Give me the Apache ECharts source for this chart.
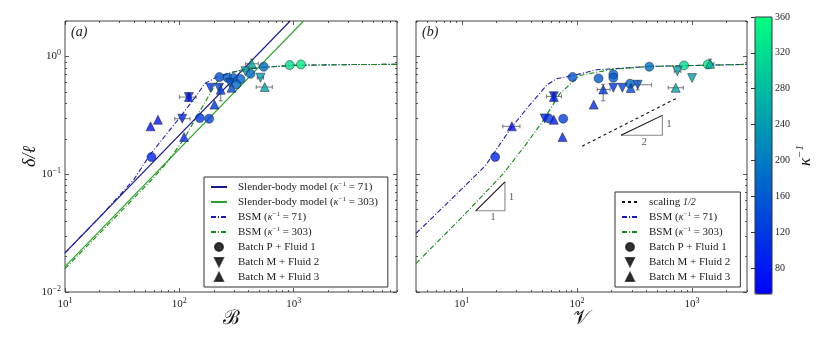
<!DOCTYPE html>
<html lang="en">
<head>
<meta charset="UTF-8">
<title>Deflection vs bending number</title>
<script src="https://cdn.jsdelivr.net/npm/echarts@6/dist/echarts.min.js"></script>
<style>
  html, body { margin: 0; padding: 0; background: #fff; }
  #main { width: 830px; height: 346px; }
</style>
</head>
<body>
<div id="main"></div>
<script>
// ---- data ----
// panel (a): x = B, panel (b): x = V ; y = delta / l
var slender71A = [[10, 0.0215], [930, 2.0]];
var slender303A = [[10, 0.0164], [1220, 2.0]];
var bsm71A = [[10, 0.0215], [20, 0.043], [40, 0.09], [55, 0.145], [100, 0.3], [140, 0.46], [167, 0.59], [217, 0.677],
              [300, 0.74], [400, 0.78], [540, 0.81], [1000, 0.84], [3000, 0.853], [8000, 0.857]];
var bsm303A = [[10, 0.0158], [30, 0.047], [60, 0.094], [80, 0.13], [110, 0.2], [141, 0.306], [180, 0.46], [211, 0.6],
               [240, 0.68], [315, 0.75], [450, 0.8], [1000, 0.84], [3000, 0.853], [8000, 0.857]];

var bsm71B = [[4, 0.0314], [10, 0.075], [16, 0.118], [27, 0.25], [40, 0.4], [54.5, 0.568], [66, 0.645], [93, 0.69],
              [148, 0.77], [431, 0.823], [3000, 0.857]];
var bsm303B = [[4, 0.0175], [10, 0.043], [22.9, 0.101], [36.5, 0.182], [51, 0.287], [71, 0.483], [106, 0.69],
               [206, 0.78], [431, 0.823], [3000, 0.857]];
var scalingB = [[111, 0.173], [751, 0.447]];

// scatter points: [x, y, kappa^-1]
var circlesA = [[57, 0.14, 95], [151, 0.30, 120], [182, 0.296, 130], [224, 0.668, 150], [263, 0.66, 170],
                [297, 0.655, 165], [342, 0.643, 170], [316, 0.579, 175], [419, 0.713, 175], [547, 0.818, 185],
                [923, 0.845, 320], [1158, 0.855, 340]];
var downA = [[106, 0.296, 95], [121, 0.452, 85], [187, 0.542, 110], [222, 0.542, 130], [276, 0.594, 150],
             [378, 0.75, 250], [512, 0.66, 240]];
var upA = [[56, 0.255, 70], [65, 0.29, 80], [121, 0.452, 85], [110, 0.207, 95], [203, 0.39, 110], [230, 0.522, 125],
           [286, 0.542, 140], [430, 0.867, 270], [558, 0.55, 250]];

var circlesB = [[19.5, 0.14, 95], [56.7, 0.298, 120], [76, 0.296, 130], [91.6, 0.668, 150], [154, 0.651, 160],
                [207, 0.704, 170], [207, 0.66, 165], [289, 0.587, 175], [425, 0.818, 185], [851, 0.839, 320],
                [1370, 0.855, 340]];
var downB = [[52.4, 0.298, 95], [63, 0.46, 85], [207, 0.542, 110], [248, 0.542, 130], [337, 0.575, 150],
             [745, 0.75, 250], [1000, 0.655, 240]];
var upB = [[27.2, 0.255, 70], [63, 0.29, 80], [63, 0.452, 85], [75, 0.207, 95], [140, 0.39, 110], [169, 0.525, 125],
           [293, 0.54, 140], [1435, 0.867, 270], [721, 0.542, 250]];

// error bars: [x, y, xlo, xhi, ylo, yhi]
var errA = [[106, 0.296, 91, 124, 0.296, 0.296], [121, 0.452, 100, 140, 0.42, 0.49], [230, 0.522, 230, 230, 0.42, 0.58],
            [430, 0.867, 380, 490, 0.80, 0.95], [558, 0.55, 470, 650, 0.55, 0.55], [512, 0.66, 480, 545, 0.66, 0.66],
            [378, 0.75, 345, 410, 0.75, 0.75]];
var errB = [[27.2, 0.255, 22.7, 32, 0.255, 0.255], [63, 0.458, 54.5, 73.5, 0.42, 0.49], [169, 0.525, 150, 194, 0.42, 0.58],
            [337, 0.575, 300, 445, 0.52, 0.62], [721, 0.542, 620, 840, 0.542, 0.542], [1435, 0.867, 1330, 1550, 0.80, 0.95],
            [745, 0.75, 700, 800, 0.75, 0.75]];

// slope triangles (panel b)
var tri11Legs = [[13.2, 0.0489], [23.7, 0.0489], [23.7, 0.0861]];
var tri11Hyp = [[13.2, 0.0489], [23.7, 0.0861]];
var tri12Legs = [[241.5, 0.214], [552, 0.214], [552, 0.316]];
var tri12Hyp = [[241.5, 0.214], [552, 0.316]];
var slopeLabels = [[18.7, 0.0435, '1'], [27, 0.0642, '1'], [385, 0.188, '2'], [631, 0.264, '1']];

// axes
var xRangeA = [10, 8000];
var xRangeB = [4, 3000];
var yRange = [0.01, 2];
var kappaRange = [51, 360];
var kappaTicks = [80, 120, 160, 200, 240, 280, 320, 360];
var decades = [0.01, 0.1, 1, 10, 100, 1000];

// ---- chart ----
var SERIF = '"Liberation Serif", "DejaVu Serif", serif';
var NAVY = '#16168c', BLUE = '#1a1ab4', GREEN = '#28a428', DGREEN = '#108a10';

function majorsIn(r) { return decades.filter(function (v) { return v >= r[0] * 0.999 && v <= r[1] * 1.001; }); }
function minorsIn(r) {
  var out = [];
  decades.forEach(function (d) {
    for (var k = 2; k <= 9; k++) { var v = d * k; if (v >= r[0] && v <= r[1]) out.push(v); }
  });
  return out;
}
function expLabel(v) {
  var e = Math.round(Math.log10(v));
  return '{b|10}{s|' + (e < 0 ? '\u2212' + (-e) : e) + '}';
}
var labelRich = {
  b: { fontFamily: SERIF, fontSize: 11, color: '#222' },
  s: { fontFamily: SERIF, fontSize: 8, color: '#222', padding: [0, 0, 7, 0] }
};

function logAxes(grid, range, dir, labels, name) {
  var isX = dir === 'x';
  var sides = isX ? ['bottom', 'top'] : ['left', 'right'];
  var res = [];
  sides.forEach(function (pos, si) {
    [majorsIn(range), minorsIn(range)].forEach(function (vals, mi) {
      var ax = {
        type: 'log', gridIndex: grid, position: pos, min: range[0], max: range[1], logBase: 10,
        axisLine: { show: false }, splitLine: { show: false },
        axisTick: { show: true, inside: true, length: mi === 0 ? 4 : 2, customValues: vals,
                    lineStyle: { color: '#333', width: 0.8 } },
        axisLabel: { show: false }
      };
      if (si === 0 && mi === 0 && labels) {
        ax.axisLabel = { show: true, customValues: vals, formatter: expLabel, rich: labelRich, margin: isX ? 5 : 4 };
      }
      if (si === 0 && mi === 0 && name) {
        ax.name = name.text;
        ax.nameLocation = 'middle';
        ax.nameGap = name.gap;
        ax.nameMoveOverlap = false;
        ax.nameRotate = isX ? 0 : 90;
        ax.nameTextStyle = { fontFamily: SERIF, fontStyle: name.style, fontSize: name.size, color: '#111' };
      }
      res.push(ax);
    });
  });
  return res;
}

var xAxes = [].concat(
  logAxes(0, xRangeA, 'x', true, { text: '\u212C', gap: 17, size: 20, style: 'normal' }),
  logAxes(1, xRangeB, 'x', true, { text: '\uD835\uDCB1', gap: 17, size: 20, style: 'normal' }),
  [{ type: 'value', gridIndex: 2, show: false, min: 0, max: 1 }]
);
var yAxes = [].concat(
  logAxes(0, yRange, 'y', true, { text: '\u03B4/\u2113', gap: 26, size: 18, style: 'italic' }),
  logAxes(1, yRange, 'y', false, null),
  [{
    type: 'value', gridIndex: 2, position: 'right', min: kappaRange[0], max: kappaRange[1],
    axisLine: { show: false }, splitLine: { show: false },
    axisTick: { show: true, inside: true, length: 4, customValues: kappaTicks, lineStyle: { color: '#333' } },
    axisLabel: { customValues: kappaTicks, fontFamily: SERIF, fontSize: 10, color: '#222', margin: 3 },
    name: '\u03BA{s|\u22121}', nameLocation: 'middle', nameGap: 23, nameRotate: 90, nameMoveOverlap: false,
    nameTextStyle: { fontFamily: SERIF, fontStyle: 'italic', fontSize: 17, color: '#111',
                     rich: { s: { fontFamily: SERIF, fontSize: 11, padding: [0, 0, 10, 0] } } }
  }]
);

function lineSeries(name, data, xi, color, dash) {
  return {
    type: 'line', name: name, data: data, xAxisIndex: xi, yAxisIndex: xi, showSymbol: false, symbol: 'none',
    lineStyle: { color: color, width: 1.1, type: dash || 'solid' }, itemStyle: { color: color },
    animation: false, z: 2
  };
}
var DOWN = 'path://M0,0 L10,0 L5,9 Z';
function scatterSeries(name, data, xi, symbol, size) {
  return {
    type: 'scatter', name: name, data: data, xAxisIndex: xi, yAxisIndex: xi, symbol: symbol, symbolSize: size,
    itemStyle: { color: '#000', borderColor: '#1a1a1a', borderWidth: 0.6 }, animation: false, z: 4
  };
}
function errSeries(data, xi) {
  return {
    type: 'custom', data: data, xAxisIndex: xi, yAxisIndex: xi, z: 3, silent: true, animation: false,
    encode: { x: 0, y: 1 },
    renderItem: function (params, api) {
      var x = api.value(0), y = api.value(1);
      var pl = api.coord([api.value(2), y]), ph = api.coord([api.value(3), y]);
      var ql = api.coord([x, api.value(4)]), qh = api.coord([x, api.value(5)]);
      var st = { stroke: '#555', lineWidth: 0.8 };
      var kids = [];
      if (ph[0] - pl[0] > 1) {
        kids.push({ type: 'line', shape: { x1: pl[0], y1: pl[1], x2: ph[0], y2: ph[1] }, style: st });
        kids.push({ type: 'line', shape: { x1: pl[0], y1: pl[1] - 2, x2: pl[0], y2: pl[1] + 2 }, style: st });
        kids.push({ type: 'line', shape: { x1: ph[0], y1: ph[1] - 2, x2: ph[0], y2: ph[1] + 2 }, style: st });
      }
      if (ql[1] - qh[1] > 1) {
        kids.push({ type: 'line', shape: { x1: ql[0], y1: ql[1], x2: qh[0], y2: qh[1] }, style: st });
        kids.push({ type: 'line', shape: { x1: ql[0] - 2, y1: ql[1], x2: ql[0] + 2, y2: ql[1] }, style: st });
        kids.push({ type: 'line', shape: { x1: qh[0] - 2, y1: qh[1], x2: qh[0] + 2, y2: qh[1] }, style: st });
      }
      return { type: 'group', children: kids };
    }
  };
}

var DASHDOT = [5, 2, 1, 2];
var N_S71 = 'Slender-body model (\u03BA\u207B\u00B9 = 71)';
var N_S303 = 'Slender-body model (\u03BA\u207B\u00B9 = 303)';
var N_B71 = 'BSM (\u03BA\u207B\u00B9 = 71)';
var N_B303 = 'BSM (\u03BA\u207B\u00B9 = 303)';
var N_P1 = 'Batch P + Fluid 1', N_M2 = 'Batch M + Fluid 2', N_M3 = 'Batch M + Fluid 3';
var N_SC = 'scaling 1/2';

var series = [
  lineSeries(N_S71, slender71A, 0, NAVY),
  lineSeries(N_S303, slender303A, 0, GREEN),
  lineSeries(N_B71, bsm71A, 0, BLUE, DASHDOT),
  lineSeries(N_B303, bsm303A, 0, DGREEN, DASHDOT),
  scatterSeries(N_P1, circlesA, 0, 'circle', 9),
  scatterSeries(N_M2, downA, 0, DOWN, 9),
  scatterSeries(N_M3, upA, 0, 'triangle', 9),
  errSeries(errA, 0),
  lineSeries(N_SC, scalingB, 4, '#111', [3, 3]),
  lineSeries(N_B71, bsm71B, 4, BLUE, DASHDOT),
  lineSeries(N_B303, bsm303B, 4, DGREEN, DASHDOT),
  scatterSeries(N_P1, circlesB, 4, 'circle', 9),
  scatterSeries(N_M2, downB, 4, DOWN, 9),
  scatterSeries(N_M3, upB, 4, 'triangle', 9),
  errSeries(errB, 4),
  lineSeries('tri-legs-1', tri11Legs, 4, '#888'),
  lineSeries('tri-hyp-1', tri11Hyp, 4, '#111'),
  lineSeries('tri-legs-2', tri12Legs, 4, '#888'),
  lineSeries('tri-hyp-2', tri12Hyp, 4, '#111'),
  {
    type: 'scatter', name: 'slope-labels', data: slopeLabels, xAxisIndex: 4, yAxisIndex: 4,
    symbolSize: 1, itemStyle: { color: 'transparent' }, silent: true, animation: false, z: 5,
    label: { show: true, position: 'inside', formatter: function (p) { return p.value[2]; },
             fontFamily: SERIF, fontSize: 11, color: '#333' }
  }
];

// legend icons: keep markers small inside a 16x8 box
var ICON_CIRCLE = 'path://M0,0 L0,0 M8,0 A4,4 0 1 1 7.99,0 Z M16,8 L16,8';
var ICON_DOWN = 'path://M0,0 L0,0 M4,0 L12,0 L8,8 Z M16,8 L16,8';
var ICON_UP = 'path://M0,0 L0,0 M8,0 L12,8 L4,8 Z M16,8 L16,8';
var HIDE_SYM = { color: 'transparent', borderWidth: 0, opacity: 0 };
function lineItem(n) { return { name: n, itemStyle: HIDE_SYM }; }
var markerItems = [{ name: N_P1, icon: ICON_CIRCLE }, { name: N_M2, icon: ICON_DOWN }, { name: N_M3, icon: ICON_UP }];

function legendFmt(name) {
  return name.replace('\u03BA\u207B\u00B9', '{k|\u03BA}{s|\u22121}').replace('1/2', '{k|1/2}');
}
var legendRich = {
  k: { fontFamily: SERIF, fontStyle: 'italic', fontSize: 10, color: '#222', lineHeight: 12 },
  s: { fontFamily: SERIF, fontSize: 7, color: '#222', lineHeight: 12, verticalAlign: 'top' }
};
function legendBox(items, left, top) {
  return {
    data: items, left: left, top: top, orient: 'vertical', itemWidth: 16, itemHeight: 8, itemGap: 3,
    padding: [4, 10, 4, 6], borderColor: '#333', borderWidth: 1, borderRadius: 0, backgroundColor: '#fff',
    formatter: legendFmt, selectedMode: false,
    textStyle: { fontFamily: SERIF, fontSize: 11, color: '#222', lineHeight: 12, padding: [0, 0, 0, 6], rich: legendRich }
  };
}

var option = {
  backgroundColor: '#fff',
  animation: false,
  grid: [
    { left: 65, top: 21, width: 332, height: 271, show: true, borderColor: '#444', borderWidth: 1, backgroundColor: 'transparent' },
    { left: 416, top: 21, width: 331, height: 271, show: true, borderColor: '#444', borderWidth: 1, backgroundColor: 'transparent' },
    { left: 755, top: 17, width: 17, height: 277, show: true, borderColor: '#333', borderWidth: 1, backgroundColor: 'transparent', z: 5 }
  ],
  xAxis: xAxes,
  yAxis: yAxes,
  visualMap: {
    type: 'continuous', min: kappaRange[0], max: kappaRange[1], dimension: 2,
    seriesIndex: [4, 5, 6, 11, 12, 13],
    inRange: { color: ['#0000ff', '#00ff80'] },
    left: 755, top: 17, itemWidth: 17, itemHeight: 277, padding: 0,
    calculable: false, hoverLink: false, text: null, orient: 'vertical'
  },
  legend: [
    legendBox([lineItem(N_S71), lineItem(N_S303), lineItem(N_B71), lineItem(N_B303)].concat(markerItems), 204, 177),
    legendBox([lineItem(N_SC), lineItem(N_B71), lineItem(N_B303)].concat(markerItems), 615, 192)
  ],
  graphic: [
    { type: 'text', left: 71, top: 25, style: { text: '(a)', fontFamily: SERIF, fontStyle: 'italic', fontSize: 14, fill: '#222' } },
    { type: 'text', left: 422, top: 25, style: { text: '(b)', fontFamily: SERIF, fontStyle: 'italic', fontSize: 14, fill: '#222' } }
  ],
  series: series
};

var chart = echarts.init(document.getElementById('main'));
chart.setOption(option);
</script>
</body>
</html>
